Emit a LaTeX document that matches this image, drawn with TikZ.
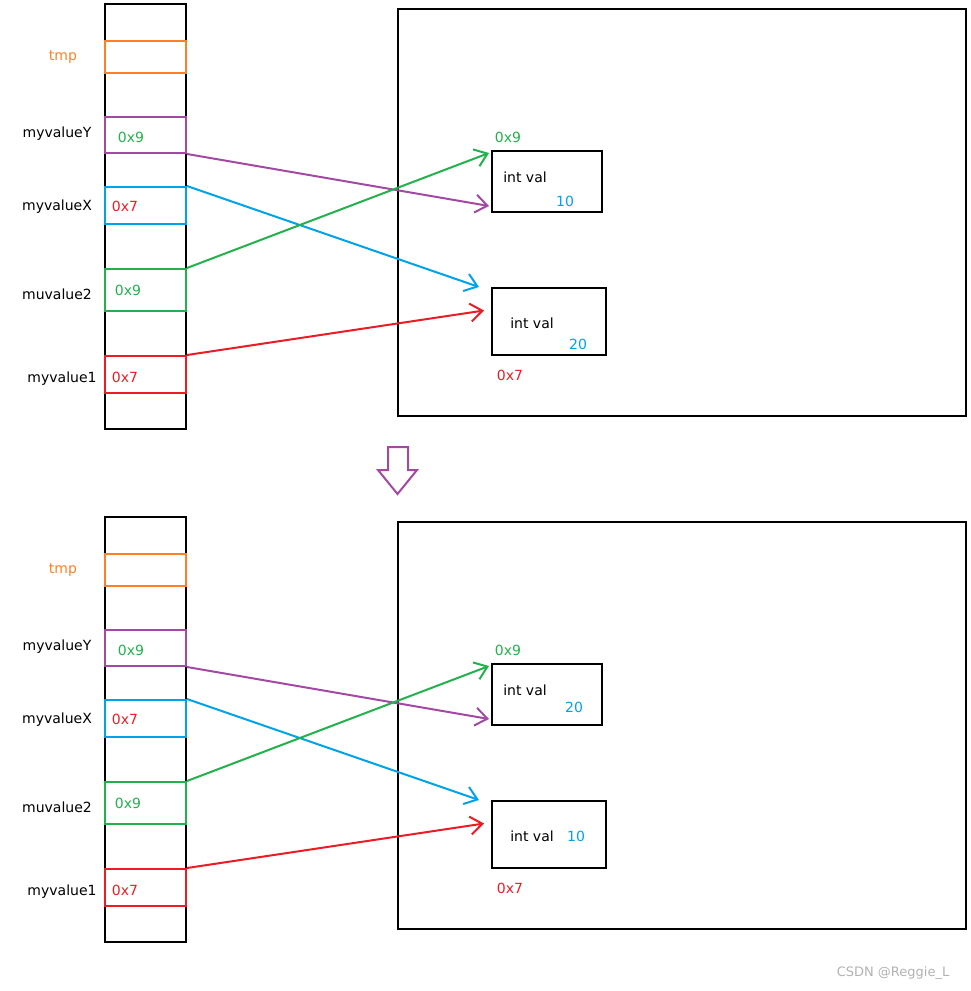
\documentclass[tikz,border=0pt]{standalone}
\usepackage{fontspec}
\setmainfont{DejaVu Sans}
\usetikzlibrary{arrows.meta,calc}
\definecolor{corange}{HTML}{FF7F27}
\definecolor{cpurple}{HTML}{A349A4}
\definecolor{cblue}{HTML}{00A2E8}
\definecolor{cgreen}{HTML}{22B14C}
\definecolor{cred}{HTML}{ED1C24}
\tikzset{
 box/.style={draw,line width=2pt,minimum width=81pt,inner sep=0pt},
 lbl/.style={font=\fontsize{14}{16}\selectfont,inner sep=0pt},
 hb/.style={draw,line width=2pt,inner sep=0pt},
 ptr/.style={line width=2pt,-{Straight Barb[length=12pt,width=18pt,line width=2pt]}}
}
\newcommand{\mypanel}[4]{% prefix, dy, val1, val2
\begin{scope}[shift={(0,#2)}]
 \draw[line width=2pt] (105,4) rectangle (186,429);
 \draw[line width=2pt] (398,9) rectangle (966,416);
 \node[box,corange,minimum height=32pt] (#1t) at (145.5,57) {};
 \node[box,cpurple,minimum height=36pt] (#1y) at (145.5,135) {};
 \node[box,cblue,minimum height=37pt] (#1x) at (145.5,205.5) {};
 \node[box,cgreen,minimum height=42pt] (#1m) at (145.5,290) {};
 \node[box,cred,minimum height=37pt] (#1r) at (145.5,374.5) {};
 \node[lbl,corange] at (63,57) {tmp};
 \node[lbl] at (57,134) {myvalueY};
 \node[lbl] at (57,207) {myvalueX};
 \node[lbl] at (57,294) {muvalue2};
 \node[lbl] at (62,379) {myvalue1};
 \node[lbl,cgreen] at (131,137) {0x9};
 \node[lbl,cred] at (125,206) {0x7};
 \node[lbl,cgreen] at (128,290) {0x9};
 \node[lbl,cred] at (125,377) {0x7};
 \node[hb,minimum width=110pt,minimum height=61pt] (#1h1) at (547,181.5) {};
 \node[hb,minimum width=114pt,minimum height=67pt] (#1h2) at (549,321.5) {};
 \node[lbl] at (525,177) {int val};
 \node[lbl] at (532,323) {int val};
 #3
 \node[lbl,cgreen] at (508,137) {0x9};
 \node[lbl,cred] at (510,375) {0x7};
 \coordinate (#1pe) at ($(#1h1.south west)+(-2,-7)$);
 \coordinate (#1be) at ($(#1h2.north west)+(-12,0)$);
 \coordinate (#1ge) at ($(#1h1.north west)+(-2,3)$);
 \coordinate (#1re) at ($(#1h2.west)+(-7,-11)$);
 \draw[ptr,cpurple] (#1y.south east) -- (#1pe);
 \draw[ptr,cblue] (#1x.north east) -- (#1be);
 \draw[ptr,cgreen] (#1m.north east) -- (#1ge);
 \draw[ptr,cred] (#1r.north east) -- (#1re);
\end{scope}}
\begin{document}
\begin{tikzpicture}[x=1pt,y=-1pt]
\useasboundingbox (0,0) rectangle (970,991);
\mypanel{a}{0}{\node[lbl,cblue] at (565,201) {10}; \node[lbl,cblue] at (578,344) {20};}
\begin{scope}[xshift=-2pt]
\mypanel{b}{513}{\node[lbl,cblue] at (574,194) {20}; \node[lbl,cblue] at (576,323) {10};}
\end{scope}
\draw[cpurple,line width=2pt] (388,447) -- (408,447) -- (408,470) -- (417,470) -- (397.5,494) -- (378,470) -- (388,470) -- cycle;
\node[lbl,gray!60,font=\fontsize{13}{15}\selectfont] at (893,973) {CSDN @Reggie\_L};
\end{tikzpicture}
\end{document}
